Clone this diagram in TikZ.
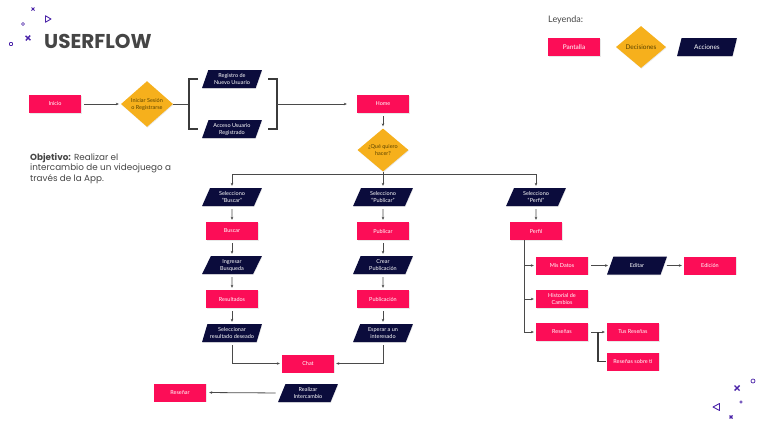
\documentclass[tikz,border=0pt]{standalone}
\usepackage{fontspec}
\setmainfont{Lato}
\newfontfamily\popfont{Poppins}
\usetikzlibrary{shapes.geometric,arrows.meta,shadows}
\definecolor{pinkc}{HTML}{FC0D57}
\definecolor{navyc}{HTML}{0B0C3C}
\definecolor{goldc}{HTML}{F6B01C}
\definecolor{linec}{HTML}{4A4A4A}
\definecolor{decc}{HTML}{5A4300}
\definecolor{purc}{HTML}{4A23A8}
\definecolor{titc}{HTML}{454545}
\tikzset{
  shad/.style={drop shadow={shadow xshift=0.5pt,shadow yshift=-0.8pt,opacity=0.18}},
  lbl/.style={font=\fontsize{5.5}{7}\selectfont, align=center, inner sep=0.5pt},
  scr/.style={lbl, rectangle, fill=pinkc, text=white, minimum width=52pt, minimum height=18pt, shad},
  dec/.style={lbl, diamond, fill=goldc, text=decc, minimum width=52pt, minimum height=44pt, shad},
  act/.style={lbl, trapezium, trapezium left angle=68, trapezium right angle=112, trapezium stretches=true,
              fill=navyc, text=white, minimum width=60pt, minimum height=18pt, shad},
  ln/.style={draw=linec, line width=0.8pt},
  arr/.style={ln, -{Stealth[length=3pt,width=2.6pt]}, shorten <=3pt, shorten >=2pt},
  brk/.style={draw=linec!80!black, line width=1.2pt},
  deco/.style={draw=purc, line width=0.9pt}
}
\begin{document}
\begin{tikzpicture}[x=1pt,y=-1pt]
\useasboundingbox (0,0) rectangle (768,432);

% title and decorations
\node[anchor=west, inner sep=0, text=titc, font=\popfont\bfseries\fontsize{20}{22}\selectfont] (title) at (44,41) {USERFLOW};
\draw[deco, line width=0.8pt] (31.5,7.5) -- (34.5,10.5) (31.5,10.5) -- (34.5,7.5);
\draw[deco, line width=0.6pt] (23,24) circle (1.5);
\draw[deco, line join=round] (45.5,15.8) -- (45.5,22.2) -- (51,19) -- cycle;
\draw[deco, line width=1.4pt] (25.5,35.8) -- (30.5,40.2) (30.2,35.5) -- (25.8,40.5);
\draw[deco, line width=0.6pt, rounded corners=0.6pt] (9.5,42.5) rectangle (12.5,45.5);

\draw[deco, line width=1.4pt] (734.5,385.5) -- (739.5,390.5) (739.5,385.5) -- (734.5,390.5);
\draw[deco, line width=0.7pt] (753,381) circle (2);
\draw[deco, line width=0.6pt] (741,402) circle (1.3);
\draw[deco, line join=round] (713,407) -- (719.5,403.5) -- (719.5,410.5) -- cycle;
\draw[deco, line width=1.1pt] (729.5,415.5) -- (732.5,418.5) (732.5,415.5) -- (729.5,418.5);

% legend
\node[anchor=west, inner sep=0, text=titc, font=\fontsize{9}{10}\selectfont] (leyenda) at (548,20) {Leyenda:};
\node[scr, font=\fontsize{6.5}{7}\selectfont] (legP) at (574,47) {Pantalla};
\node[dec, font=\fontsize{6.5}{7}\selectfont, minimum width=50pt, minimum height=42pt] (legD) at (641,47) {Decisiones};
\node[act, font=\fontsize{6.5}{7}\selectfont] (legA) at (707,47) {Acciones};

% objective
\node[anchor=north west, align=left, inner sep=0, text=titc, font=\popfont\fontsize{8.8}{10.5}\selectfont] (obj) at (30,153)
  {\textbf{Objetivo:} Realizar el\\intercambio de un videojuego a\\través de la App.};

% top row
\node[scr] (inicio) at (55,104) {Inicio};
\node[dec] (dec1) at (147,104) {Iniciar Sesión\\o Registrarse};
\node[act] (reg) at (232,79) {Registro de\\Nuevo Usuario};
\node[act] (acc) at (232,129) {Acceso Usuario\\Registrado};
\node[scr] (home) at (383,104) {Home};
\node[dec, minimum width=51pt, minimum height=43pt] (dec2) at (383,150) {¿Qué quiero\\hacer?};

\draw[arr] (inicio) -- (dec1);
\coordinate (bl) at (189,104);
\coordinate (blt) at (189,79);
\coordinate (blb) at (189,129);
\draw[ln] (dec1.east) -- (bl);
\draw[brk] (198,79) -- (blt) -- (blb) -- (198,129);
\coordinate (br) at (277,104);
\draw[brk] (268,79) -- (277,79) -- (277,129) -- (268,129);
\draw[arr, shorten <=0pt, shorten >=10pt] (br) -- (home);

\draw[arr] (home) -- (dec2);

% branches
\coordinate (hL) at (232,174);
\coordinate (hM) at (383,174);
\coordinate (hR) at (536,174);
\draw[ln] (dec2.south) -- (hM);
\draw[ln] (hL) -- (hR);

\node[act] (selB) at (232,197) {Selecciono\\“Buscar”};
\node[act] (selP) at (383,197) {Selecciono\\“Publicar”};
\node[act] (selF) at (536,197) {Selecciono\\“Perfil”};
\draw[arr, shorten <=0pt] (hL) -- (selB);
\draw[arr, shorten <=0pt] (hM) -- (selP);
\draw[arr, shorten <=0pt] (hR) -- (selF);

% Buscar column
\node[scr] (buscar) at (232,231) {Buscar};
\node[act] (ingr) at (232,265) {Ingresar\\Busqueda};
\node[scr] (resul) at (232,299) {Resultados};
\node[act] (selres) at (232,333) {Seleccionar\\resultado deseado};
\draw[arr] (selB) -- (buscar);
\draw[arr] (buscar) -- (ingr);
\draw[arr] (ingr) -- (resul);
\draw[arr] (resul) -- (selres);

% Publicar column
\node[scr] (publ) at (383,231) {Publicar};
\node[act] (crear) at (383,265) {Crear\\Publicación};
\node[scr] (pub) at (383,299) {Publicación};
\node[act] (esp) at (383,333) {Esperar a un\\interesado};
\draw[arr] (selP) -- (publ);
\draw[arr] (publ) -- (crear);
\draw[arr] (crear) -- (pub);
\draw[arr] (pub) -- (esp);

% chat
\node[scr] (chat) at (308,363.5) {Chat};
\draw[arr] (selres.south) |- (chat.west);
\draw[arr] (esp.south) |- (chat.east);
\node[act] (real) at (308,393) {Realizar\\Intercambio};
\node[scr] (resen) at (180,392.5) {Reseñar};
\draw[arr, shorten <=6pt, shorten >=3pt] (real.west) -- (resen.east);

% Perfil column
\node[scr] (perfil) at (536,231) {Perfil};
\draw[arr] (selF) -- (perfil);
\node[scr] (mis) at (562,265.5) {Mis Datos};
\node[act] (edit) at (637,265.5) {Editar};
\node[scr] (edic) at (710,265.5) {Edición};
\node[scr] (hist) at (562,299) {Historial de\\Cambios};
\node[scr] (resn) at (562,332) {Reseñas};
\node[scr] (tus) at (633,332) {Tus Reseñas};
\node[scr] (sobre) at (633,361.5) {Reseñas sobre ti};

\coordinate (pv) at (524,240);
\draw[arr, shorten <=0pt] (pv) |- (resn.west);
\draw[arr, shorten <=0pt] (pv |- mis) -- (mis.west);
\draw[arr, shorten <=0pt] (pv |- hist) -- (hist.west);
\draw[arr] (mis) -- (edit);
\draw[arr] (edit) -- (edic);
\coordinate (rb) at (598,332);
\draw[arr] (resn) -- (tus);
\draw[brk, shorten >=1pt] (rb) |- (sobre.west);
\end{tikzpicture}
\end{document}
